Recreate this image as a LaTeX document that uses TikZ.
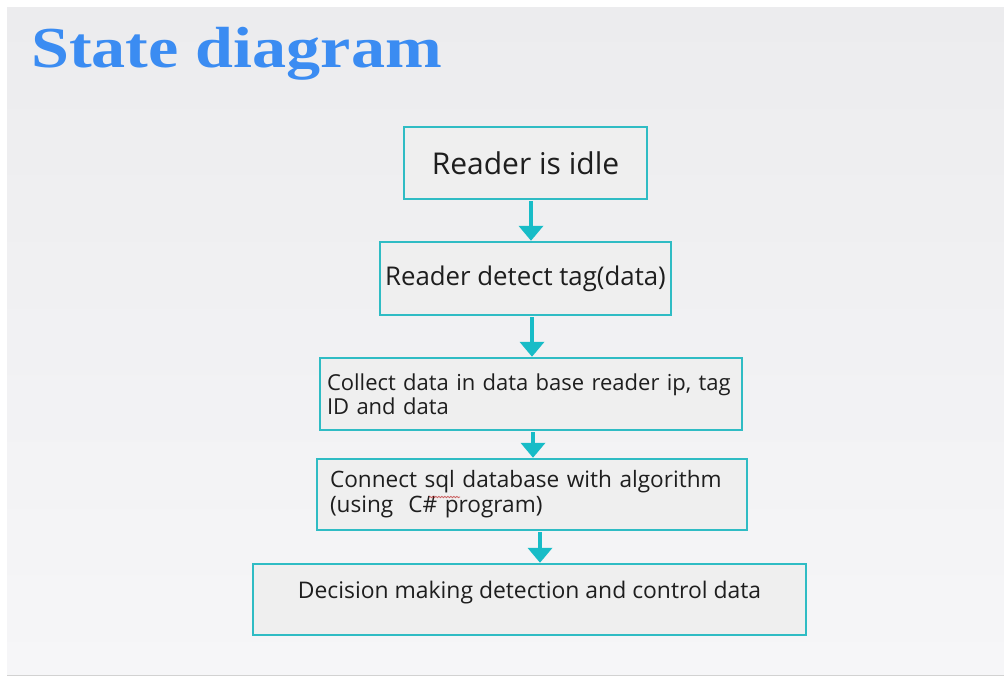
\documentclass[tikz,border=0pt]{standalone}
\usepackage{fontspec}
\setmainfont{Open Sans}
\newfontfamily\titlefont{Liberation Serif}
\usetikzlibrary{arrows.meta,decorations.pathmorphing}
\definecolor{slidetop}{HTML}{ECECEE}
\definecolor{slidebot}{HTML}{F6F6F8}
\definecolor{tealedge}{HTML}{2FBCC4}
\definecolor{tealarrow}{HTML}{18BCC7}
\definecolor{boxfill}{HTML}{EFEFEF}
\definecolor{titleblue}{HTML}{3B8CF2}
\definecolor{inktext}{HTML}{1E1E1E}
\tikzset{
  statebox/.style={draw=tealedge, line width=2.4pt, fill=boxfill, rectangle,
    inner sep=0pt, text=inktext},
  flow/.style={draw=tealarrow, line width=4.5pt,
    -{Triangle[width=24pt,length=15pt]}, shorten <=1pt}
}
\begin{document}
\begin{tikzpicture}[x=1pt, y=-1pt]
  \useasboundingbox (0,0) rectangle (1004,677);
  % slide background
  \fill[white] (0,0) rectangle (1004,677);
  \shade[top color=slidetop, bottom color=slidebot] (7,8) rectangle (1004,675);
  \draw[gray!35, line width=1pt] (7,675.5) -- (1004,675.5);

  % heading
  \node[anchor=base west, inner sep=0pt, text=titleblue,
        font=\titlefont\bfseries\fontsize{58}{60}\selectfont] (title) at (31,67)
        {\scalebox{1.175}[1]{State diagram}};

  % states
  \node[statebox, minimum width=243pt, minimum height=72pt,
        font=\fontsize{30}{32}\selectfont] (idle) at (525.5,163) {Reader is idle};
  \node[statebox, minimum width=291pt, minimum height=73pt,
        font=\fontsize{25.8}{28}\selectfont] (detect) at (525.5,278.5) {Reader detect tag(data)};
  \node[statebox, minimum width=422pt, minimum height=72pt, text width=408pt, align=left,
        font=\fontsize{22}{24}\selectfont] (collect) at (531,394)
        {Collect data in data base reader ip, tag\\ID and data};
  \node[statebox, minimum width=430pt, minimum height=71pt, text width=404pt, align=left,
        font=\fontsize{22.6}{25}\selectfont] (connect) at (532,494.5)
        {Connect sql database with algorithm\\(using\ \ C\# program)};
  \node[statebox, minimum width=553pt, minimum height=71pt,
        font=\fontsize{22.9}{25}\selectfont] (decide) at (529.5,599.5)
        {\raisebox{7pt}[\height][\depth]{Decision making detection and control data}};

  % spell-check mark under "sql"
  \coordinate (sqlA) at (429,497);
  \coordinate (sqlB) at (460,497);
  \draw[red!70!black, line width=0.8pt, opacity=0.6,
        decorate, decoration={snake, amplitude=0.7pt, segment length=3pt}] (sqlA) -- (sqlB);

  % transitions
  \draw[flow] (idle.south -| 531,0) -- (detect.north -| 531,0);
  \draw[flow] (detect.south -| 532,0) -- (collect.north -| 532,0);
  \draw[flow] (collect.south -| 533,0) -- (connect.north -| 533,0);
  \draw[flow] (connect.south -| 540,0) -- (decide.north -| 540,0);
\end{tikzpicture}
\end{document}
